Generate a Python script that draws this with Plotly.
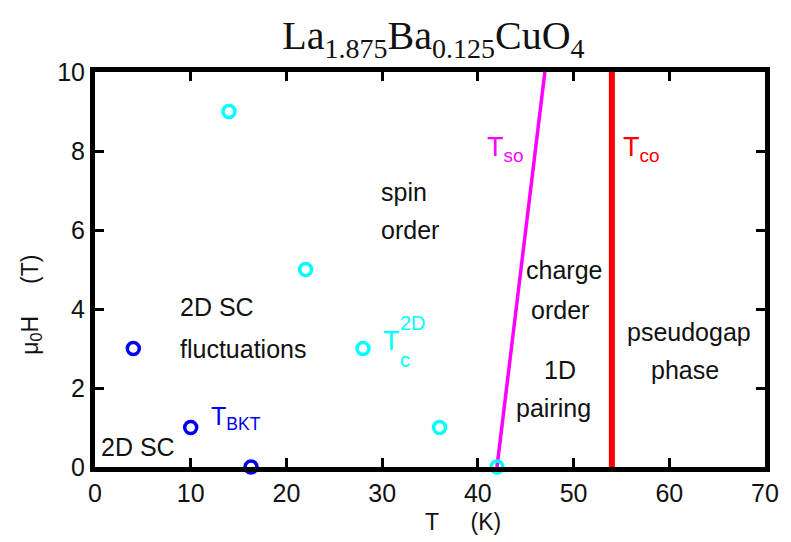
import plotly.graph_objects as go

# Data
bkt_T = [4, 10, 16.3]
bkt_H = [3, 1, 0]
tc2d_T = [14, 22, 28, 36, 42]
tc2d_H = [9, 5, 3, 1, 0]
tso_T = [42, 47]
tso_H = [0, 10]
tco_T = [54, 54]
tco_H = [0, 10]
x_ticks = [0, 10, 20, 30, 40, 50, 60, 70]
y_ticks = [0, 2, 4, 6, 8, 10]

SANS = "Liberation Sans, Arial, Helvetica, sans-serif"
SERIF = "Liberation Serif, Times New Roman, serif"
FS = 25

fig = go.Figure()
fig.add_trace(go.Scatter(x=tso_T, y=tso_H, mode="lines",
                         line=dict(color="#ff00ff", width=3.5), showlegend=False))
fig.add_trace(go.Scatter(x=tco_T, y=tco_H, mode="lines",
                         line=dict(color="#ff0000", width=6), showlegend=False))
fig.add_trace(go.Scatter(x=tc2d_T, y=tc2d_H, mode="markers", cliponaxis=False,
                         marker=dict(symbol="circle-open", size=12, color="#00ffff",
                                     line=dict(width=3.5, color="#00ffff")),
                         showlegend=False))
fig.add_trace(go.Scatter(x=bkt_T, y=bkt_H, mode="markers", cliponaxis=False,
                         marker=dict(symbol="circle-open", size=12, color="#0000ee",
                                     line=dict(width=3.5, color="#0000ee")),
                         showlegend=False))

ann = []
def txt(x, y, s, color="#111111", size=FS, xanchor="left", yanchor="middle"):
    ann.append(dict(x=x, y=y, xref="x", yref="y", text=s, showarrow=False,
                    xanchor=xanchor, yanchor=yanchor, xshift=-2,
                    font=dict(family=SANS, size=size, color=color)))

txt(29.9, 6.97, "spin")
txt(29.9, 6.0, "order")
txt(45.0, 4.99, "charge")
txt(45.5, 3.97, "order")
txt(46.9, 2.46, "1D")
txt(44.0, 1.49, "pairing")
txt(55.6, 3.42, "pseudogap")
txt(58.1, 2.46, "phase")
txt(8.86, 4.05, "2D SC")
txt(8.86, 2.99, "fluctuations")
txt(0.6, 0.51, "2D SC")
txt(12.1, 1.25, "T<sub>BKT</sub>", color="#0000ee")
txt(30.1, 3.2, "T", color="#00ffff", size=27)
txt(31.9, 3.65, "2D", color="#00ffff", size=20)
txt(31.9, 2.72, "c", color="#00ffff", size=20)
txt(41.0, 8.05, "T<sub>so</sub>", color="#ff00ff", size=27)
txt(55.2, 8.05, "T<sub>co</sub>", color="#ff0000", size=27)

# axis titles
ann.append(dict(x=0.549, y=-0.139, xref="paper", yref="paper", text="T     (K)",
                showarrow=False, xanchor="center", yanchor="middle",
                font=dict(family=SANS, size=23, color="#111111")))
ann.append(dict(x=-0.096, y=0.41, xref="paper", yref="paper",
                text="μ<sub>0</sub>H     (T)", textangle=-90,
                showarrow=False, xanchor="center", yanchor="middle",
                font=dict(family=SANS, size=23, color="#111111")))

fig.update_layout(
    width=791, height=542,
    margin=dict(l=95, r=20, t=72, b=75),
    paper_bgcolor="white", plot_bgcolor="white",
    title=dict(text="La<sub>1.875</sub>Ba<sub>0.125</sub>CuO<sub>4</sub>",
               x=0.548, xanchor="center", y=0.935, yanchor="middle",
               font=dict(family=SERIF, size=40, color="#111111")),
    annotations=ann,
    xaxis=dict(range=[0, 70], tickvals=x_ticks, ticktext=[str(v) for v in x_ticks],
               showgrid=False, zeroline=False, showline=True, linewidth=5,
               linecolor="black", mirror="ticks", ticks="inside", ticklen=9,
               tickwidth=3, tickcolor="black",
               tickfont=dict(family=SANS, size=FS, color="#111111")),
    yaxis=dict(range=[0, 10], tickvals=y_ticks, ticktext=[str(v) for v in y_ticks],
               showgrid=False, zeroline=False, showline=True, linewidth=5,
               linecolor="black", mirror="ticks", ticks="inside", ticklen=9,
               tickwidth=3, tickcolor="black",
               tickfont=dict(family=SANS, size=FS, color="#111111")),
)

fig.write_html("out.html")
